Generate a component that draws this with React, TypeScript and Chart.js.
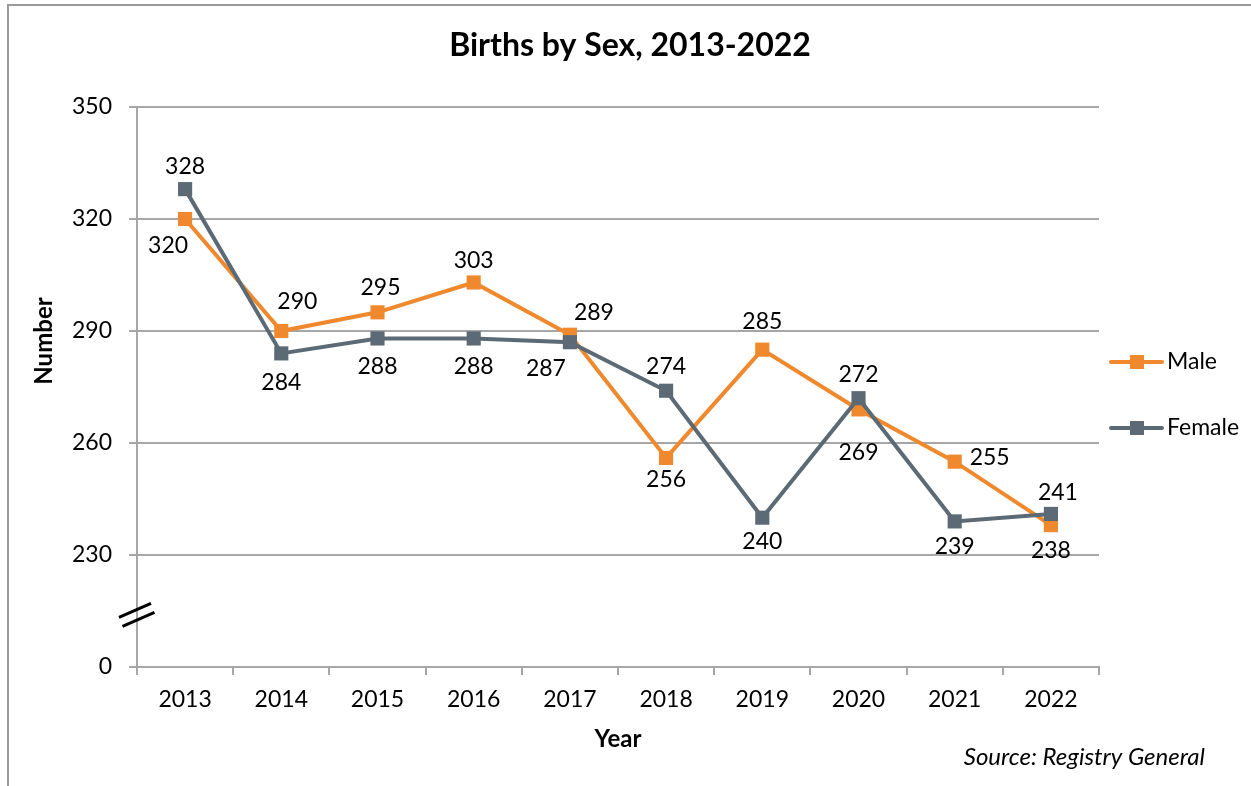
import React, { useEffect, useRef } from "react";
import { Chart, registerables } from "chart.js";

Chart.register(...registerables);

const years = ["2013", "2014", "2015", "2016", "2017", "2018", "2019", "2020", "2021", "2022"];
const maleBirths = [320, 290, 295, 303, 289, 256, 285, 269, 255, 238];
const femaleBirths = [328, 284, 288, 288, 287, 274, 240, 272, 239, 241];

// broken axis: the bottom value of the scale is shown as "0"
const axisFloor = 200;
const axisTop = 350;
const axisStep = 30;
const floorLabel = "0";

// data label placement (dx, dy in px relative to the point)
const maleLabelOffsets = [
  [-17, 27], [16, -29], [3, -25], [0, -22], [24, -22],
  [0, 22], [0, -28], [0, 43], [35, -4], [0, 25],
];
const femaleLabelOffsets = [
  [0, -23], [0, 29], [0, 28], [0, 28], [-24, 26],
  [0, -24], [0, 24], [0, -24], [0, 25], [7, -21],
];

const MALE_COLOR = "#F0892D";
const FEMALE_COLOR = "#5B6A75";
const GRID_COLOR = "#A6A6A6";
const FONT = "Lato, 'Open Sans', sans-serif";

const decorPlugin = {
  id: "decor",
  beforeDraw(chart: any) {
    const { ctx } = chart;
    ctx.save();
    ctx.fillStyle = "#ffffff";
    ctx.fillRect(0, 0, chart.width, chart.height);
    // frame
    ctx.strokeStyle = "#9A9A9A";
    ctx.lineWidth = 2;
    ctx.strokeRect(8, 5, chart.width + 20, chart.height + 20);
    ctx.restore();
  },
  afterDraw(chart: any) {
    const { ctx, chartArea, scales } = chart;
    ctx.save();
    // title
    ctx.fillStyle = "#000";
    ctx.textAlign = "center";
    ctx.textBaseline = "middle";
    ctx.font = `bold 32px ${FONT}`;
    ctx.fillText("Births by Sex, 2013-2022", 630, 46);

    // y-axis title
    ctx.save();
    ctx.translate(44, 341);
    ctx.rotate(-Math.PI / 2);
    ctx.font = `bold 24px ${FONT}`;
    ctx.fillText("Number", 0, 0);
    ctx.restore();

    // source
    ctx.font = `italic 24px ${FONT}`;
    ctx.textAlign = "right";
    ctx.fillText("Source: Registry General", 1205, 757);

    // axis break marks
    const bx = chartArea.left;
    const by = scales.y.getPixelForValue(axisFloor + 13.8);
    ctx.strokeStyle = "#000";
    ctx.lineWidth = 3;
    ctx.beginPath();
    ctx.moveTo(bx - 18, by + 2);
    ctx.lineTo(bx + 14, by - 12);
    ctx.moveTo(bx - 14.5, by + 11);
    ctx.lineTo(bx + 17.5, by - 3);
    ctx.stroke();

    // legend
    const legendItems = [
      { label: "Male", color: MALE_COLOR, y: 362 },
      { label: "Female", color: FEMALE_COLOR, y: 428 },
    ];
    legendItems.forEach((it) => {
      ctx.strokeStyle = it.color;
      ctx.lineWidth = 4;
      ctx.lineCap = "round";
      ctx.beginPath();
      ctx.moveTo(1111, it.y);
      ctx.lineTo(1162, it.y);
      ctx.stroke();
      ctx.fillStyle = it.color;
      ctx.fillRect(1130, it.y - 7, 14, 14);
      ctx.fillStyle = "#000";
      ctx.textAlign = "left";
      ctx.textBaseline = "middle";
      ctx.font = `23px ${FONT}`;
      ctx.fillText(it.label, 1167, it.y);
    });
    ctx.restore();
  },
  afterDatasetsDraw(chart: any) {
    const { ctx } = chart;
    ctx.save();
    ctx.fillStyle = "#000";
    ctx.font = `23px ${FONT}`;
    ctx.textAlign = "center";
    ctx.textBaseline = "middle";
    const offsets = [maleLabelOffsets, femaleLabelOffsets];
    chart.data.datasets.forEach((ds: any, di: number) => {
      const meta = chart.getDatasetMeta(di);
      meta.data.forEach((pt: any, i: number) => {
        const [dx, dy] = offsets[di][i];
        ctx.fillText(String(ds.data[i]), pt.x + dx, pt.y + dy);
      });
    });
    ctx.restore();
  },
};

export default function App() {
  const ref = useRef<HTMLCanvasElement | null>(null);
  useEffect(() => {
    if (!ref.current) return;
    const chart = new Chart(ref.current, {
      type: "line",
      data: {
        labels: years,
        datasets: [
          {
            label: "Male",
            data: maleBirths,
            borderColor: MALE_COLOR,
            backgroundColor: MALE_COLOR,
            borderWidth: 4,
            pointStyle: "rect",
            pointRadius: 10,
            pointHoverRadius: 10,
            pointBorderWidth: 0,
            tension: 0,
            order: 1,
          },
          {
            label: "Female",
            data: femaleBirths,
            borderColor: FEMALE_COLOR,
            backgroundColor: FEMALE_COLOR,
            borderWidth: 4,
            pointStyle: "rect",
            pointRadius: 10,
            pointHoverRadius: 10,
            pointBorderWidth: 0,
            tension: 0,
            order: 0,
          },
        ],
      },
      options: {
        responsive: false,
        animation: false,
        devicePixelRatio: 1,
        layout: { padding: { left: 0, top: 107, right: 152, bottom: 0 } },
        plugins: {
          legend: { display: false },
          title: { display: false },
          tooltip: { enabled: false },
        },
        scales: {
          x: {
            type: "category",
            offset: true,
            grid: {
              offset: true,
              drawOnChartArea: false,
              drawTicks: true,
              tickLength: 8,
              color: GRID_COLOR,
              lineWidth: 2,
            },
            border: { color: GRID_COLOR, width: 2 },
            ticks: {
              color: "#000",
              padding: 11,
              font: { family: FONT, size: 23 },
              maxRotation: 0,
            },
            title: {
              display: true,
              text: "Year",
              color: "#000",
              font: { family: FONT, size: 24, weight: "bold" },
              padding: { top: 0, bottom: 32 },
            },
            afterFit(scale: any) {
              scale.height = 119;
            },
          },
          y: {
            type: "linear",
            min: axisFloor,
            max: axisTop,
            grid: {
              color: GRID_COLOR,
              lineWidth: 2,
              tickLength: 8,
            },
            border: { color: GRID_COLOR, width: 2 },
            ticks: {
              stepSize: axisStep,
              color: "#000",
              padding: 17,
              font: { family: FONT, size: 23 },
              callback: (v: any) => (Number(v) === axisFloor ? floorLabel : String(v)),
            },
            afterFit(scale: any) {
              scale.width = 137;
            },
          },
        },
      },
      plugins: [decorPlugin],
    } as any);
    return () => chart.destroy();
  }, []);
  return (
    <div style={{ position: "absolute", left: 0, top: 0, width: 1251, height: 786, background: "#fff" }}>
      <canvas ref={ref} width={1251} height={786} style={{ display: "block" }} />
    </div>
  );
}
